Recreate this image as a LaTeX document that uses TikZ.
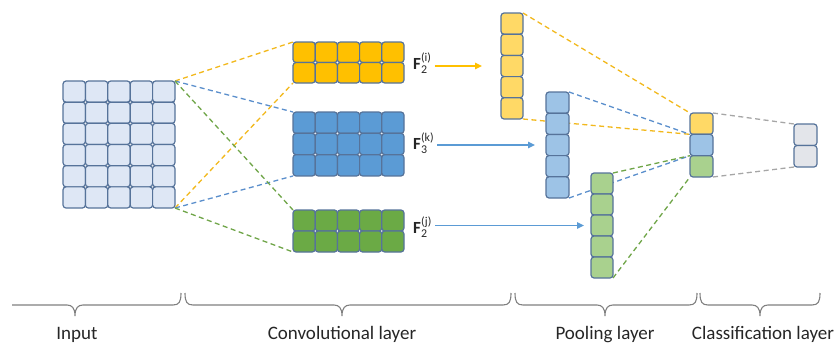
\documentclass[tikz,border=0pt]{standalone}
\usepackage{fontspec}
\usepackage{amsmath}
\setmainfont{Carlito}
\usetikzlibrary{arrows.meta,calc,backgrounds}
\definecolor{cellborder}{HTML}{56739A}
\definecolor{infill}{HTML}{DEE7F5}
\definecolor{cyellow}{HTML}{FFC000}
\definecolor{cblue}{HTML}{5B9BD5}
\definecolor{cgreen}{HTML}{6BAA45}
\definecolor{lyellow}{HTML}{FFD966}
\definecolor{lblue}{HTML}{9DC3E6}
\definecolor{lgreen}{HTML}{A9D18E}
\definecolor{lgray}{HTML}{E3E5EA}
\definecolor{dyellow}{HTML}{F2B81C}
\definecolor{dblue}{HTML}{5B8FCC}
\definecolor{dgreen}{HTML}{6FA548}
\definecolor{dgray}{HTML}{A6A6A6}
\definecolor{bracegray}{HTML}{808080}
\definecolor{txt}{HTML}{262626}
\tikzset{
  block/.style={inner sep=0pt, outer sep=0pt},
  cell/.style={draw=cellborder, line width=1.2pt, rounded corners=3pt},
  dl/.style={line width=1.3pt, dash pattern=on 5pt off 3.5pt},
  arr/.style={line width=1.3pt, -{Triangle[length=7pt,width=6.5pt]}},
  flabel/.style={inner xsep=3pt, inner ysep=0pt, font=\fontsize{17}{20}\selectfont, text=txt},
  layerlabel/.style={font=\fontsize{19}{22}\selectfont, text=txt, anchor=base},
  bracestyle/.style={draw=bracegray, line width=1.1pt}
}
% name, x0, y0, cols, rows, w, h
\newcommand\gridblock[7]{%
  \node[block, minimum width={#4*#6pt}, minimum height={#5*#7pt}] (#1) at ({#2+#4*#6/2},{#3+#5*#7/2}) {};}
% x0, y0, cols, rows, w, h, fill
\newcommand\gridcells[7]{%
  \foreach \ci in {1,...,#3} {\foreach \cj in {1,...,#4} {%
    \draw[cell, fill=#7] ({#1+(\ci-1)*#5},{#2+(\cj-1)*#6}) rectangle ++(#5,#6);}}}
% start path, tip x, end x
\newcommand\bracepath[3]{%
  \draw[bracestyle] #1 -- ({#2-8},305) .. controls ({#2-3},305) and (#2,308) .. (#2,316)
    .. controls (#2,308) and ({#2+3},305) .. ({#2+8},305) -- ({#3-8},305)
    .. controls ({#3-2},305) and (#3,302) .. (#3,293);}
\begin{document}
\begin{tikzpicture}[x=1pt,y=-1pt]
\useasboundingbox (0,0) rectangle (838,343);
% block nodes
\gridblock{in}{63}{81}{5}{6}{22.4}{21.17}
\gridblock{yc}{293}{42}{5}{2}{22.2}{20.5}
\gridblock{bc}{293}{112}{5}{3}{22.2}{21.33}
\gridblock{gc}{293}{210}{5}{2}{22.2}{21}
\gridblock{yp}{501}{13}{1}{5}{22}{21.2}
\gridblock{bp}{546}{92}{1}{5}{23}{21.2}
\gridblock{gp}{591}{173}{1}{5}{22}{21}
\gridblock{cls}{690}{113}{1}{3}{23}{21.33}
\gridblock{out}{794}{124}{1}{2}{23}{21.5}
\coordinate (c1) at ($(cls.north west)!1/3!(cls.south west)$);
\coordinate (c2) at ($(cls.north west)!2/3!(cls.south west)$);
% cells
\gridcells{63}{81}{5}{6}{22.4}{21.17}{infill}
\gridcells{293}{42}{5}{2}{22.2}{20.5}{cyellow}
\gridcells{293}{112}{5}{3}{22.2}{21.33}{cblue}
\gridcells{293}{210}{5}{2}{22.2}{21}{cgreen}
\gridcells{501}{13}{1}{5}{22}{21.2}{lyellow}
\gridcells{546}{92}{1}{5}{23}{21.2}{lblue}
\gridcells{591}{173}{1}{5}{22}{21}{lgreen}
\draw[cell, fill=lyellow] (690,113) rectangle ++(23,21.33);
\draw[cell, fill=lblue] (690,134.33) rectangle ++(23,21.33);
\draw[cell, fill=lgreen] (690,155.67) rectangle ++(23,21.33);
\gridcells{794}{124}{1}{2}{23}{21.5}{lgray}
% dashed connectors
\begin{scope}[on background layer]
\draw[dl, draw=dyellow] (in.north east) -- (yc.north west);
\draw[dl, draw=dyellow] (in.south east) -- (yc.south west);
\draw[dl, draw=dblue] (in.north east) -- (bc.north west);
\draw[dl, draw=dblue] (in.south east) -- (bc.south west);
\draw[dl, draw=dgreen] (in.north east) -- (gc.north west);
\draw[dl, draw=dgreen] (in.south east) -- (gc.south west);
\draw[dl, draw=dyellow] (yp.north east) -- (cls.north west);
\draw[dl, draw=dyellow] (yp.south east) -- (c1);
\draw[dl, draw=dblue] (bp.north east) -- (c1);
\draw[dl, draw=dblue] (bp.south east) -- (c2);
\draw[dl, draw=dgreen] (gp.north east) -- (c2);
\draw[dl, draw=dgreen] (gp.south east) -- (cls.south west);
\draw[dl, draw=dgray] (cls.north east) -- (out.north west);
\draw[dl, draw=dgray] (cls.south east) -- (out.south west);
\end{scope}
% labels and arrows
\node[flabel, anchor=base west] (fy) at (410,69) {$\textbf{F}_{\text{2}}^{\text{(i)}}$};
\node[flabel, anchor=base west] (fb) at (410,149) {$\textbf{F}_{\text{3}}^{\text{(k)}}$};
\node[flabel, anchor=base west] (fg) at (410,233) {$\textbf{F}_{\text{2}}^{\text{(j)}}$};
\draw[arr, draw=cyellow, fill=cyellow, shorten >=19pt] (fy.east |- yp.west) -- (yp.west);
\draw[arr, draw=cblue, fill=cblue, shorten >=11pt] (fb.east |- bp.west) -- (bp.west);
\draw[arr, draw=cblue, fill=cblue, shorten >=7pt] (fg.east |- gp.west) -- (gp.west);
% braces
\bracepath{(12,305)}{75}{181}
\bracepath{(185,293) .. controls (185,302) and (187,305) .. (193,305)}{342}{511}
\bracepath{(515,293) .. controls (515,302) and (517,305) .. (523,305)}{605}{697}
\bracepath{(700,293) .. controls (700,302) and (702,305) .. (708,305)}{760}{820}
\node[layerlabel] (lin) at (77,339) {Input};
\node[layerlabel] (lconv) at (342,339) {Convolutional layer};
\node[layerlabel] (lpool) at (605,339) {Pooling layer};
\node[layerlabel] (lcls) at (763,339) {Classification layer};
\end{tikzpicture}
\end{document}
